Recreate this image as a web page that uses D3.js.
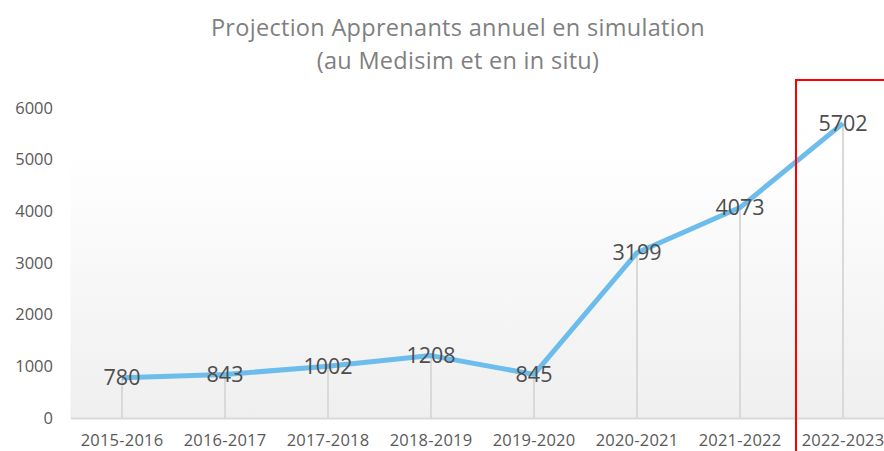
<!DOCTYPE html>
<html><head><meta charset="utf-8">
<script src="https://cdn.jsdelivr.net/npm/d3@7"></script>
<style>body{margin:0;background:#fff;overflow:hidden}</style>
</head><body>
<svg id="c" width="884" height="451"></svg>
<script>
const categories = ["2015-2016","2016-2017","2017-2018","2018-2019","2019-2020","2020-2021","2021-2022","2022-2023"];
const values = [780, 843, 1002, 1208, 845, 3199, 4073, 5702];
const yTicks = [0,1000,2000,3000,4000,5000,6000];
const titleLines = ["Projection Apprenants annuel en simulation","(au Medisim et en in situ)"];
const highlightCategory = "2022-2023";

const svg = d3.select("#c");
const font = "'Open Sans', Carlito, Calibri, sans-serif";
const x = d3.scaleBand().domain(categories).range([70.5, 894.5]);
const y = d3.scaleLinear().domain([0,6000]).range([418,108]);

const defs = svg.append("defs");
const g = defs.append("linearGradient").attr("id","bg").attr("x1",0).attr("y1",0).attr("x2",0).attr("y2",1);
g.append("stop").attr("offset","0%").attr("stop-color","#ffffff");
g.append("stop").attr("offset","100%").attr("stop-color","#efefef");
svg.append("rect").attr("x",70.5).attr("y",y(5200)).attr("width",824).attr("height",418-y(5200)).attr("fill","url(#bg)");

// title
svg.selectAll("text.title").data(titleLines).enter().append("text")
  .attr("x",458).attr("y",(d,i)=>36+i*33).attr("text-anchor","middle")
  .attr("font-family",font).attr("font-size",23.5).attr("letter-spacing",0.3).attr("fill","#7f7f7f").text(d=>d);

// y axis
const ya = svg.append("g").attr("transform","translate(53,0)")
  .call(d3.axisLeft(y).tickValues(yTicks).tickSize(0).tickPadding(0).tickFormat(d3.format("d")));
ya.select(".domain").remove();
ya.selectAll("text").attr("font-family",font).attr("font-size",16.5).attr("fill","#595959");

// drop lines
svg.selectAll("line.drop").data(values).enter().append("line")
  .attr("x1",(d,i)=>x(categories[i])+x.bandwidth()/2).attr("x2",(d,i)=>x(categories[i])+x.bandwidth()/2)
  .attr("y1",d=>y(d)).attr("y2",y(0)).attr("stroke","#d9d9d9").attr("stroke-width",2);

// x axis
const xa = svg.append("g").attr("transform",`translate(0,${y(0)})`)
  .call(d3.axisBottom(x).tickSize(0).tickPadding(16));
xa.select(".domain").attr("stroke","#d9d9d9").attr("stroke-width",2);
xa.selectAll("text").attr("font-family",font).attr("font-size",16.5).attr("letter-spacing",0.2).attr("fill","#595959");

// line
const line = d3.line().x((d,i)=>x(categories[i])+x.bandwidth()/2).y(d=>y(d));
svg.append("path").datum(values).attr("d",line).attr("fill","none")
  .attr("stroke","#6cbdeb").attr("stroke-width",5).attr("stroke-linejoin","round");

// labels
svg.selectAll("text.lbl").data(values).enter().append("text")
  .attr("x",(d,i)=>x(categories[i])+x.bandwidth()/2).attr("y",d=>y(d)).attr("dy","0.35em")
  .attr("text-anchor","middle").attr("font-family",font).attr("font-size",21.5).attr("fill","#4d4d4d").text(d=>d);

// highlight rectangle
const hx = x(highlightCategory) + x.bandwidth()/2 - 47;
svg.append("rect").attr("x",hx).attr("y",80).attr("width",200).attr("height",400)
  .attr("fill","none").attr("stroke","#ff0000").attr("stroke-width",2);
</script>
</body></html>
